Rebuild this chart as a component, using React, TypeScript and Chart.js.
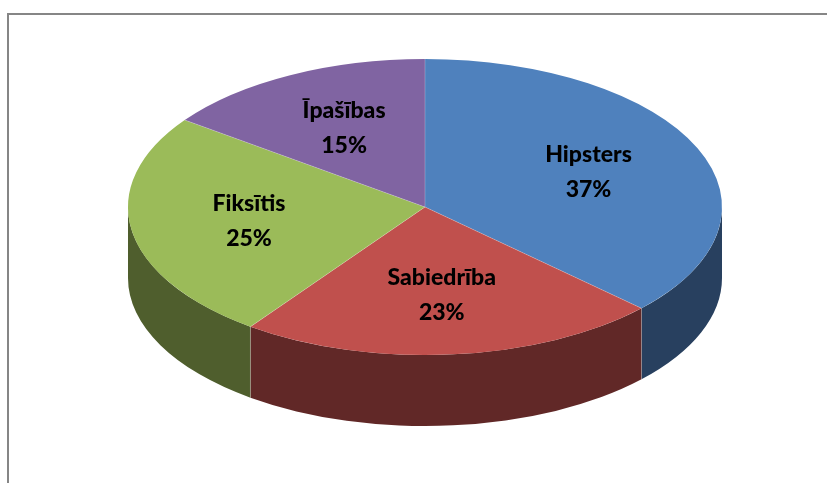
import React, { useEffect, useRef } from 'react';
import { Chart, registerables } from 'chart.js';

Chart.register(...registerables);

// ---- data ----
const categories = ['Hipsters', 'Sabiedrība', 'Fiksītis', 'Īpašības'];
const shares = [37, 23, 25, 15];
const topColors = ['#4F81BD', '#C0504D', '#9BBB59', '#8064A2'];
const sideColors = ['#28405F', '#612827', '#4F5E2D', '#40325A'];

const pie3d = {
  id: 'pie3d',
  beforeDraw(chart: any, _args: any, opts: any) {
    const ctx = chart.ctx;
    ctx.save();
    ctx.fillStyle = opts.frameColor;
    ctx.fillRect(7, 13, chart.width - 7, 2);
    ctx.fillRect(7, 13, 2, chart.height - 13);
    ctx.restore();
  },
  beforeDatasetsDraw(chart: any, _args: any, opts: any) {
    const ctx = chart.ctx;
    const meta = chart.getDatasetMeta(0);
    const ca = chart.chartArea;
    const depth = opts.depth;
    const rx = (ca.right - ca.left) / 2;
    const ry = (ca.bottom - ca.top - depth) / 2;
    const cx = (ca.left + ca.right) / 2;
    const cy = ca.top + ry;
    chart.$pie3d = { cx, cy, rx, ry, depth };
    ctx.save();
    meta.data.forEach((arc: any, i: number) => {
      const p = arc.getProps(['startAngle', 'endAngle'], true);
      const a1 = Math.max(p.startAngle, 0);
      const a2 = Math.min(p.endAngle, Math.PI);
      if (a2 <= a1) return;
      ctx.beginPath();
      ctx.ellipse(cx, cy, rx, ry, 0, a1, a2);
      ctx.ellipse(cx, cy + depth, rx, ry, 0, a2, a1, true);
      ctx.closePath();
      ctx.fillStyle = sideColors[i];
      ctx.fill();
    });
    // wall seams
    ctx.strokeStyle = opts.seamColor;
    ctx.lineWidth = 1;
    meta.data.forEach((arc: any) => {
      const p = arc.getProps(['startAngle'], true);
      const a = p.startAngle;
      if (a > 0 && a < Math.PI) {
        const x = cx + rx * Math.cos(a);
        const y = cy + ry * Math.sin(a);
        ctx.beginPath();
        ctx.moveTo(x, y);
        ctx.lineTo(x, y + depth);
        ctx.stroke();
      }
    });
    ctx.restore();
    // squash the library-drawn circle into the top ellipse
    const el = meta.data[0];
    const q = el.getProps(['x', 'y', 'outerRadius'], true);
    ctx.save();
    ctx.translate(cx, cy);
    ctx.scale(rx / q.outerRadius, ry / q.outerRadius);
    ctx.translate(-q.x, -q.y);
  },
  afterDatasetsDraw(chart: any, _args: any, opts: any) {
    const ctx = chart.ctx;
    ctx.restore();
    const { cx, cy, rx, ry } = chart.$pie3d;
    const meta = chart.getDatasetMeta(0);
    const values: number[] = chart.data.datasets[0].data;
    const total = values.reduce((s, v) => s + v, 0);
    ctx.save();
    // top seams
    ctx.strokeStyle = opts.seamColor;
    ctx.lineWidth = 1;
    meta.data.forEach((arc: any) => {
      const p = arc.getProps(['startAngle'], true);
      ctx.beginPath();
      ctx.moveTo(cx, cy);
      ctx.lineTo(cx + rx * Math.cos(p.startAngle), cy + ry * Math.sin(p.startAngle));
      ctx.stroke();
    });
    // labels
    ctx.fillStyle = opts.labelColor;
    ctx.font = opts.labelFont;
    ctx.textAlign = 'center';
    ctx.textBaseline = 'middle';
    meta.data.forEach((arc: any, i: number) => {
      const p = arc.getProps(['startAngle', 'endAngle'], true);
      const mid = (p.startAngle + p.endAngle) / 2;
      const x = cx + rx * opts.labelFrac * Math.cos(mid);
      const y = cy + ry * opts.labelFrac * Math.sin(mid);
      const pct = Math.round((values[i] / total) * 100) + '%';
      ctx.fillText(chart.data.labels[i], x, y - opts.lineGap / 2);
      ctx.fillText(pct, x, y + opts.lineGap / 2);
    });
    ctx.restore();
  },
};

export default function App() {
  const ref = useRef<HTMLCanvasElement | null>(null);
  useEffect(() => {
    if (!ref.current) return;
    const chart = new Chart(ref.current, {
      type: 'pie',
      data: {
        labels: categories,
        datasets: [
          {
            data: shares,
            backgroundColor: topColors,
            borderWidth: 0,
          },
        ],
      },
      options: {
        animation: false,
        responsive: true,
        maintainAspectRatio: false,
        events: [],
        layout: { padding: { left: 128, right: 105, top: 59, bottom: 57 } },
        plugins: {
          legend: { display: false },
          tooltip: { enabled: false },
          pie3d: {
            depth: 71,
            frameColor: '#868686',
            seamColor: 'rgba(255,255,255,0.22)',
            labelColor: '#000000',
            labelFont: '900 23px Lato',
            labelFrac: 0.6,
            lineGap: 35,
          },
        } as any,
      },
      plugins: [pie3d],
    });
    return () => chart.destroy();
  }, []);
  return (
    <div style={{ position: 'fixed', left: 0, top: 0, width: 827, height: 483, background: '#fff' }}>
      <canvas ref={ref} />
    </div>
  );
}
